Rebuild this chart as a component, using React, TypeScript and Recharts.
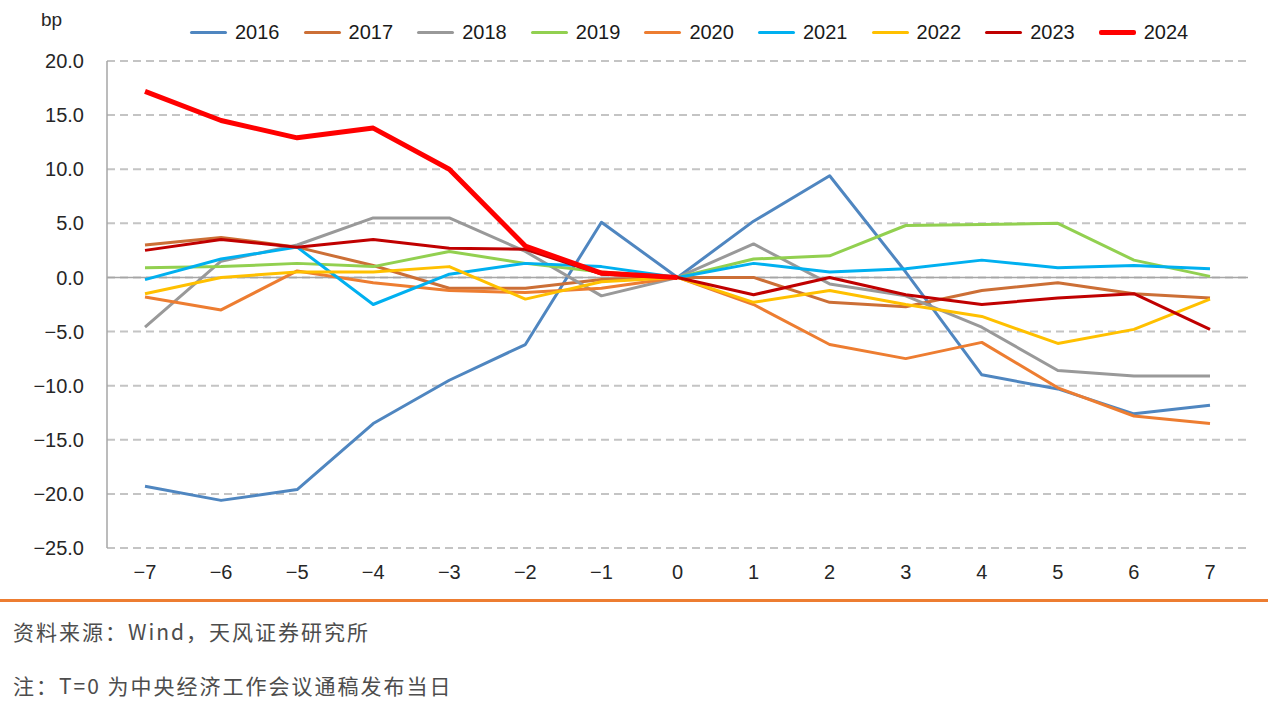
import { LineChart, Line, XAxis, YAxis, CartesianGrid, ReferenceLine } from "recharts";

const days = [-7, -6, -5, -4, -3, -2, -1, 0, 1, 2, 3, 4, 5, 6, 7];
const yTicks = [20, 15, 10, 5, 0, -5, -10, -15, -20, -25];

const s2016 = [-19.3, -20.6, -19.6, -13.5, -9.5, -6.2, 5.1, 0, 5.2, 9.4, 0.5, -9.0, -10.3, -12.6, -11.8];
const s2017 = [3.0, 3.7, 2.8, 1.1, -1.0, -1.0, -0.2, 0, 0.0, -2.3, -2.7, -1.2, -0.5, -1.5, -1.9];
const s2018 = [-4.6, 1.5, 3.0, 5.5, 5.5, 2.4, -1.7, 0, 3.1, -0.6, -1.7, -4.6, -8.6, -9.1, -9.1];
const s2019 = [0.9, 1.0, 1.3, 1.0, 2.4, 1.3, 0.5, 0, 1.7, 2.0, 4.8, 4.9, 5.0, 1.6, 0.1];
const s2020 = [-1.8, -3.0, 0.6, -0.5, -1.2, -1.4, -1.0, 0, -2.5, -6.2, -7.5, -6.0, -10.2, -12.8, -13.5];
const s2021 = [-0.2, 1.7, 2.8, -2.5, 0.3, 1.3, 1.0, 0, 1.3, 0.5, 0.8, 1.6, 0.9, 1.1, 0.8];
const s2022 = [-1.5, 0.0, 0.5, 0.5, 1.0, -2.0, -0.4, 0, -2.3, -1.2, -2.5, -3.6, -6.1, -4.8, -2.0];
const s2023 = [2.5, 3.5, 2.8, 3.5, 2.7, 2.6, 0.3, 0, -1.6, 0.0, -1.6, -2.5, -1.9, -1.5, -4.8];
const s2024 = [17.2, 14.5, 12.9, 13.8, 10.0, 2.9, 0.4, 0, null, null, null, null, null, null, null];

const series = [
  { name: "2016", values: s2016, color: "#4F86C0", width: 3 },
  { name: "2017", values: s2017, color: "#CC6F36", width: 3 },
  { name: "2018", values: s2018, color: "#999999", width: 3 },
  { name: "2019", values: s2019, color: "#92D050", width: 3 },
  { name: "2020", values: s2020, color: "#ED7D31", width: 3 },
  { name: "2021", values: s2021, color: "#00B0F0", width: 3 },
  { name: "2022", values: s2022, color: "#FFC000", width: 3 },
  { name: "2023", values: s2023, color: "#C00000", width: 3 },
  { name: "2024", values: s2024, color: "#FF0000", width: 5 },
];

const data = days.map((d, i) => {
  const row: Record<string, number | string | null> = { day: d };
  series.forEach((s) => (row[s.name] = s.values[i]));
  return row;
});

const minus = (v: number, digits: number) => (v < 0 ? "\u2212" + Math.abs(v).toFixed(digits) : v.toFixed(digits));

const font = "Liberation Sans, Arial, sans-serif";
const cjk = "Noto Sans CJK SC, sans-serif";

export default function App() {
  return (
    <div style={{ position: "absolute", left: 0, top: 0, width: 1268, height: 707, background: "#fff", fontFamily: font }}>
      <div style={{ position: "absolute", left: 41, top: 9, fontSize: 19, color: "#262626" }}>bp</div>
      <div style={{ position: "absolute", left: 190, top: 20, display: "flex" }}>
        {series.map((s) => (
          <div key={s.name} style={{ display: "flex", alignItems: "center", width: 113.6 }}>
            <div style={{ width: 37, height: s.width === 5 ? 5 : 3, background: s.color, borderRadius: 2 }} />
            <span style={{ marginLeft: 8, fontSize: 20, color: "#1a1a1a", lineHeight: "24px" }}>{s.name}</span>
          </div>
        ))}
      </div>
      <LineChart width={1268} height={600} data={data} margin={{ top: 61, right: 20, bottom: 12, left: 0 }}>
        <CartesianGrid vertical={false} stroke="#C4C4C4" strokeWidth={2} strokeDasharray="8 5" />
        <XAxis
          dataKey="day"
          height={40}
          padding={{ left: 38, right: 38 }}
          axisLine={false}
          tickLine={false}
          tickMargin={11}
          interval={0}
          tickFormatter={(v: number) => minus(v, 0)}
          tick={{ fill: "#262626", fontSize: 20, fontFamily: font }}
        />
        <YAxis
          width={107}
          domain={[-25, 20]}
          ticks={yTicks}
          interval={0}
          axisLine={{ stroke: "#A6A6A6", strokeWidth: 1.5 }}
          tickLine={false}
          tickMargin={17}
          tickFormatter={(v: number) => minus(v, 1)}
          tick={{ fill: "#262626", fontSize: 20, fontFamily: font }}
        />
        <ReferenceLine y={0} stroke="#A6A6A6" strokeWidth={1.5} />
        {series.map((s) => (
          <Line
            key={s.name}
            type="linear"
            dataKey={s.name}
            stroke={s.color}
            strokeWidth={s.width}
            strokeLinejoin="round"
            dot={false}
            activeDot={false}
            isAnimationActive={false}
          />
        ))}
      </LineChart>
      <div style={{ position: "absolute", left: 0, top: 599, width: 1268, height: 3, background: "#ED7D31" }} />
      <div style={{ position: "absolute", left: 13, top: 616, fontSize: 21, letterSpacing: 2, color: "#4d4d4d", fontFamily: cjk }}>
        资料来源：Wind，天风证券研究所
      </div>
      <div style={{ position: "absolute", left: 13, top: 670, fontSize: 21, letterSpacing: 2, color: "#4d4d4d", fontFamily: cjk }}>
        注：T=0 为中央经济工作会议通稿发布当日
      </div>
    </div>
  );
}
